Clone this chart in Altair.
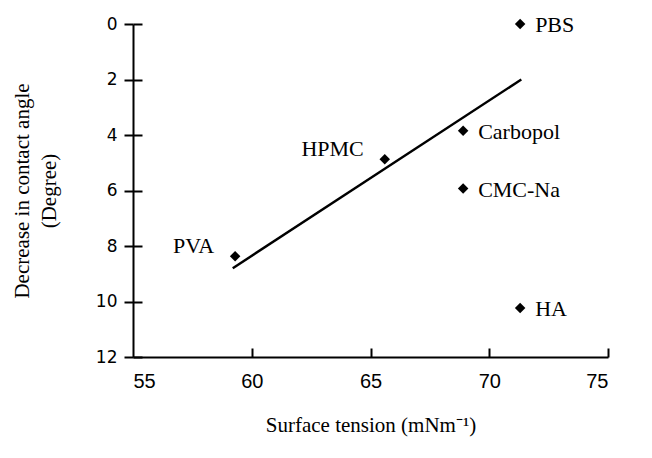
import altair as alt
import pandas as pd

names = ["PBS", "Carbopol", "CMC-Na", "HPMC", "PVA", "HA"]
tension = [71.3, 68.9, 68.9, 65.6, 59.3, 71.3]
decrease = [0.0, 3.85, 5.93, 4.87, 8.37, 10.23]

fit_x = [59.2, 71.35]
fit_y = [8.8, 2.0]

x_ticks = [55, 60, 65, 70, 75]
y_ticks = [0, 2, 4, 6, 8, 10, 12]

pts = pd.DataFrame({"name": names, "x": tension, "y": decrease})
fit = pd.DataFrame({"x": fit_x, "y": fit_y})

xs = alt.Scale(domain=[55, 75], nice=False, zero=False)
ys = alt.Scale(domain=[0, 12], reverse=True, nice=False, zero=False)

SERIF = "Liberation Serif"
SANS = "Liberation Sans"

x_main = alt.X("x:Q", scale=xs, axis=alt.Axis(
    values=x_ticks, ticks=False, domain=True, domainColor="black", domainWidth=2,
    labelFont=SANS, labelFontSize=20, labelColor="black", labelPadding=14,
    grid=False, orient="bottom",
    title="Surface tension (mNm⁻¹)", titleFont=SERIF, titleFontSize=21,
    titleFontWeight="normal", titleColor="black", titlePadding=23))
y_main = alt.Y("y:Q", scale=ys, axis=alt.Axis(
    values=y_ticks, tickSize=9, tickWidth=2, tickColor="black",
    domain=True, domainColor="black", domainWidth=2,
    labelFont="DejaVu Sans", labelFontSize=17, labelColor="black", labelPadding=7,
    grid=False, orient="left",
    title=["Decrease in contact angle", "(Degree)"], titleFont=SERIF,
    titleFontSize=21, titleFontWeight="normal", titleColor="black",
    titlePadding=36, titleLineHeight=27))

points = alt.Chart(pts).mark_point(
    shape="diamond", filled=True, size=110, color="black", opacity=1
).encode(x=x_main, y=y_main)

x_in = alt.X("x:Q", scale=xs, axis=alt.Axis(
    values=[60, 65, 70, 75], tickSize=9, tickWidth=2, tickColor="black",
    domain=False, labels=False, grid=False, orient="bottom", offset=-9, title=None))
y_in = alt.Y("y:Q", scale=ys, axis=alt.Axis(
    values=y_ticks, tickSize=9, tickWidth=2, tickColor="black",
    domain=False, labels=False, grid=False, orient="left", offset=-9, title=None))

line = alt.Chart(fit).mark_line(color="black", strokeWidth=2.4).encode(x=x_in, y=y_in)

right_lbl = alt.Chart(pts).transform_filter(
    alt.FieldOneOfPredicate(field="name", oneOf=["PBS", "Carbopol", "CMC-Na", "HA"])
).mark_text(align="left", baseline="middle", dx=15, dy=1, font=SERIF,
            fontSize=22, color="black").encode(
    x=alt.X("x:Q", scale=xs, axis=None), y=alt.Y("y:Q", scale=ys, axis=None),
    text="name:N")

left_lbl = alt.Chart(pts).transform_filter(
    alt.FieldOneOfPredicate(field="name", oneOf=["HPMC", "PVA"])
).mark_text(align="right", baseline="middle", dx=-21, dy=-10, font=SERIF,
            fontSize=22, color="black").encode(
    x=alt.X("x:Q", scale=xs, axis=None), y=alt.Y("y:Q", scale=ys, axis=None),
    text="name:N")

chart = alt.layer(points, line, right_lbl, left_lbl).resolve_axis(
    x="independent", y="independent"
).properties(
    width=475, height=333,
    autosize=alt.AutoSizeParams(type="none"),
    padding={"left": 125, "top": 16, "right": 30, "bottom": 90},
    background="white",
).configure_view(stroke=None)

chart.save("out.html", embed_options={"renderer": "svg", "actions": False})
